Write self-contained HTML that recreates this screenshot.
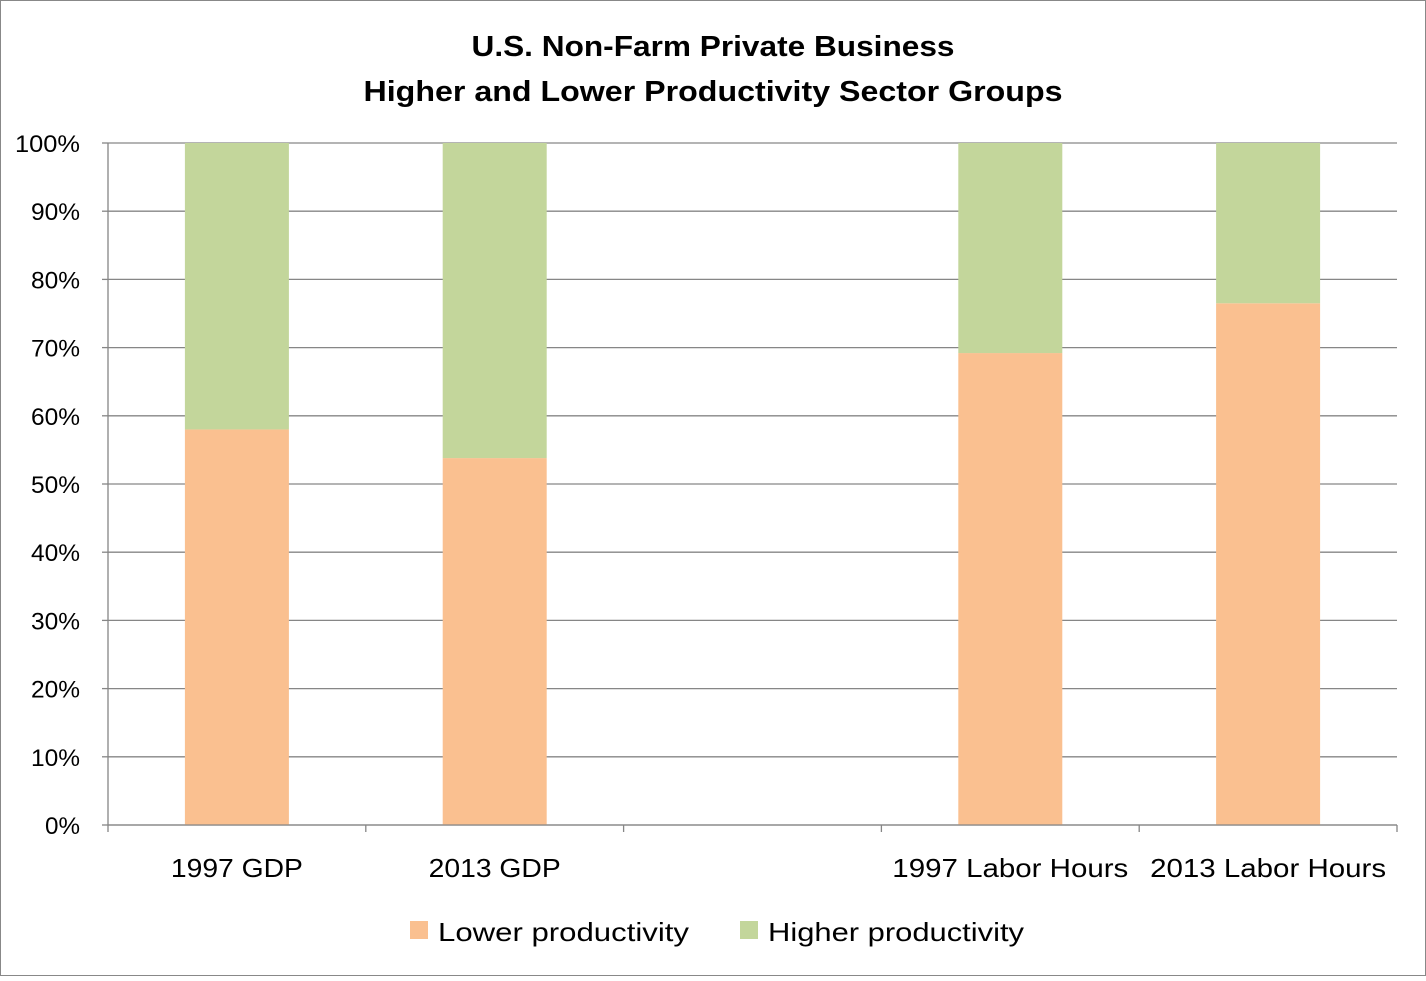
<!DOCTYPE html>
<html><head><meta charset="utf-8"><style>
body{margin:0;background:#fff;}
svg text{font-family:"Liberation Sans",Calibri,sans-serif;}
</style></head><body>
<svg id="chart" width="1426" height="976">
<rect x="0.5" y="0.5" width="1425" height="975" fill="#fff" stroke="#888"/>
<text x="713" y="56" text-anchor="middle" font-size="29" font-weight="bold" textLength="483" lengthAdjust="spacingAndGlyphs">U.S. Non-Farm Private Business</text>
<text x="713" y="101" text-anchor="middle" font-size="29" font-weight="bold" textLength="699" lengthAdjust="spacingAndGlyphs">Higher and Lower Productivity Sector Groups</text>
<g id="grid"></g><g id="bars"></g><g id="axes"></g>
<g>
<rect x="410" y="921" width="18" height="18" fill="#FAC090"/>
<text x="438" y="941" font-size="26" textLength="251" lengthAdjust="spacingAndGlyphs">Lower productivity</text>
<rect x="740" y="921" width="18" height="18" fill="#C3D69B"/>
<text x="768" y="941" font-size="26" textLength="256" lengthAdjust="spacingAndGlyphs">Higher productivity</text>
</g>
</svg>
<script>
const categories=["1997 GDP","2013 GDP","","1997 Labor Hours","2013 Labor Hours"];
const lowerValues=[58,53.8,null,69.2,76.5];
const higherValues=[42,46.2,null,30.8,23.5];
const yTicks=[0,10,20,30,40,50,60,70,80,90,100];
const NS="http://www.w3.org/2000/svg";
const L=108,R=1397,T=143,B=825;
const slot=(R-L)/categories.length;
const y=v=>B-(v/100)*(B-T);
const xc=i=>L+slot*(i+0.5);
const bw=104;
function mk(tag,attrs,parent){const e=document.createElementNS(NS,tag);for(const k in attrs)e.setAttribute(k,attrs[k]);document.getElementById(parent).appendChild(e);return e;}
yTicks.forEach(t=>{
 const g=mk("line",{x1:L,x2:R,y1:y(t),y2:y(t),stroke:"#868686","stroke-width":1.3},"grid");
 
 
 const tk=mk("line",{x1:L-6,x2:L,y1:y(t),y2:y(t),stroke:"#868686","stroke-width":1.3},"axes");
 
 
 const n=String(t).length;
 const lb=mk("text",{x:80,y:y(t)+9,"text-anchor":"end","font-size":24,textLength:n===3?65:(n===2?49:35),lengthAdjust:"spacingAndGlyphs"},"axes");
 lb.textContent=t+"%";
 
 
});
const ax=mk("line",{x1:L,x2:L,y1:T,y2:B,stroke:"#868686","stroke-width":1.3},"axes");


for(let i=0;i<=categories.length;i++){
 const tk=mk("line",{x1:L+slot*i,x2:L+slot*i,y1:B,y2:B+7,stroke:"#868686","stroke-width":1.3},"axes");
 
 
}
categories.forEach((c,i)=>{
 if(lowerValues[i]!=null){
  const r1=mk("rect",{x:xc(i)-bw/2,y:y(lowerValues[i]),width:bw,height:B-y(lowerValues[i]),fill:"#FAC090"},"bars");
  
  
  const top=lowerValues[i]+higherValues[i];
  const r2=mk("rect",{x:xc(i)-bw/2,y:y(top),width:bw,height:y(lowerValues[i])-y(top),fill:"#C3D69B"},"bars");
  
  
 }
 if(c){
  const t=mk("text",{x:xc(i),y:877,"text-anchor":"middle","font-size":26,textLength:c.length>10?236:132,lengthAdjust:"spacingAndGlyphs"},"axes");
  t.textContent=c;
  
  
 }
});
const xa=mk("line",{x1:L,x2:R,y1:B,y2:B,stroke:"#868686","stroke-width":1.3},"axes");


</script>
</body></html>
